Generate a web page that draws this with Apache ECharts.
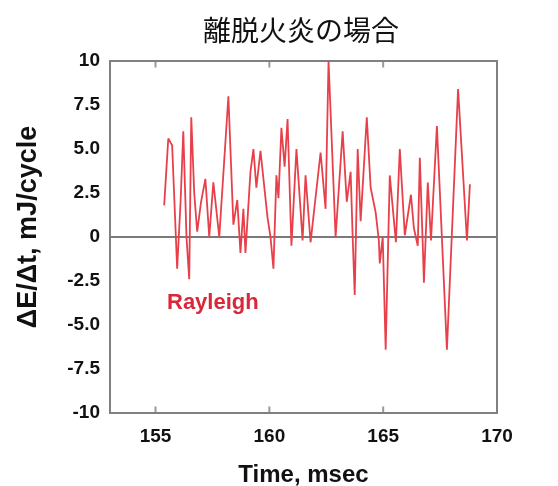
<!DOCTYPE html>
<html>
<head>
<meta charset="utf-8">
<script src="https://cdn.jsdelivr.net/npm/echarts@6/dist/echarts.min.js"></script>
<style>
  html, body { margin: 0; padding: 0; background: #fff; }
  #chart { width: 558px; height: 486px; }
</style>
</head>
<body>
<div id="chart"></div>
<script>
// Rayleigh index energy rate for the lifted (detached) flame
const timeMs = [
  155.38, 155.56, 155.73, 155.95, 156.10, 156.22, 156.36, 156.48, 156.57, 156.70,
  156.83, 157.00, 157.19, 157.36, 157.54, 157.80, 158.20, 158.42, 158.59, 158.73,
  158.86, 158.95, 159.17, 159.30, 159.43, 159.61, 159.92, 160.05, 160.18, 160.31,
  160.40, 160.53, 160.67, 160.80, 160.97, 161.19, 161.46, 161.59, 161.81, 162.25,
  162.47, 162.60, 162.91, 163.22, 163.40, 163.57, 163.66, 163.75, 163.88, 164.01,
  164.28, 164.45, 164.67, 164.81, 164.85, 164.98, 165.11, 165.29, 165.56, 165.73,
  165.95, 166.22, 166.35, 166.52, 166.61, 166.74, 166.79, 166.96, 167.10, 167.36,
  167.80, 168.29, 168.68, 168.81
];
const rayleighValues = [
  1.8, 5.6, 5.2, -1.8, 2.0, 6.0, 0.0, -2.4, 6.8, 2.5,
  0.3, 2.0, 3.3, 0.0, 3.1, 0.0, 8.0, 0.7, 2.1, -0.9,
  1.6, -0.9, 3.7, 5.0, 2.8, 4.9, 1.1, 0.0, -1.8, 3.5,
  2.2, 6.2, 4.0, 6.7, -0.5, 5.0, -0.2, 3.5, -0.3, 4.8,
  1.6, 10.0, 0.0, 6.0, 2.0, 3.7, 0.0, -3.3, 5.0, 0.9,
  6.8, 2.8, 1.4, -0.2, -1.5, 0.0, -6.4, 3.5, -0.3, 5.0,
  0.1, 2.4, 0.5, -0.5, 4.5, -0.5, -2.6, 3.1, -0.2, 6.3,
  -6.4, 8.4, -0.2, 3.0
];
const xTickValues = [155, 160, 165, 170];
const yTickValues = [-10, -7.5, -5, -2.5, 0, 2.5, 5, 7.5, 10];
const yTickLabels = ['-10', '-7.5', '-5.0', '-2.5', '0', '2.5', '5.0', '7.5', '10'];

const chartTitle = '離脱火炎の場合';
const seriesName = 'Rayleigh';
const xAxisName = 'Time, msec';
const yAxisName = 'ΔE/Δt, mJ/cycle';

const points = timeMs.map((t, i) => [t, rayleighValues[i]]);

const chart = echarts.init(document.getElementById('chart'), null, { renderer: 'canvas' });

const latin = 'Liberation Sans, Arial, sans-serif';
const tickFont = { fontFamily: latin, fontWeight: 'bold', fontSize: 19, color: '#111' };

chart.setOption({
  animation: false,
  backgroundColor: '#ffffff',
  title: {
    text: chartTitle,
    left: 296,
    top: 11,
    textAlign: 'center',
    textStyle: { fontFamily: 'Noto Sans CJK JP, sans-serif', fontWeight: 'normal', fontSize: 28, color: '#111' }
  },
  grid: {
    left: 110, right: 61, top: 61, bottom: 73,
    outerBoundsMode: 'none',
    containLabel: false,
    show: true, borderColor: '#808080', borderWidth: 2, backgroundColor: 'transparent'
  },
  xAxis: [
    {
      type: 'value', min: 153, max: 170, interval: 1,
      name: xAxisName, nameLocation: 'middle', nameGap: 50,
      nameTextStyle: { fontFamily: latin, fontWeight: 'bold', fontSize: 24, color: '#111' },
      axisLine: { show: true, lineStyle: { color: '#808080', width: 2 } },
      axisTick: { show: false },
      splitLine: { show: false },
      axisLabel: Object.assign({
        margin: 14,
        formatter: v => xTickValues.includes(v) ? String(v) : ''
      }, tickFont)
    }
  ],
  yAxis: [
    {
      type: 'value', min: -10, max: 10, interval: 2.5,
      name: yAxisName, nameLocation: 'middle', nameGap: 68, nameRotate: 90,
      nameTextStyle: { fontFamily: latin, fontWeight: 'bold', fontSize: 27, color: '#111', padding: [0, 0, 0, 20] },
      axisLine: { show: true, lineStyle: { color: '#808080', width: 2 } },
      axisTick: { show: false },
      splitLine: { show: false },
      axisLabel: Object.assign({
        margin: 10,
        formatter: v => {
          const i = yTickValues.indexOf(v);
          return i >= 0 ? yTickLabels[i] : '';
        }
      }, tickFont)
    }
  ],
  graphic: [
    {
      type: 'text', left: 167, top: 292,
      style: { text: seriesName, fill: '#d8283a', font: 'bold 22px Liberation Sans, Arial, sans-serif' }
    }
  ],
  series: [
    {
      name: 'x ticks',
      type: 'scatter',
      silent: true,
      symbol: 'rect',
      symbolSize: [2, 7],
      symbolOffset: [0, -3],
      itemStyle: { color: '#808080' },
      data: xTickValues.slice(0, 3).map(v => [v, -10]),
      z: 3
    },
    {
      name: 'x ticks top',
      type: 'scatter',
      silent: true,
      symbol: 'rect',
      symbolSize: [2, 7],
      symbolOffset: [0, 3],
      itemStyle: { color: '#808080' },
      data: xTickValues.slice(0, 3).map(v => [v, 10]),
      z: 3
    },
    {
      name: seriesName,
      type: 'line',
      data: points,
      showSymbol: false,
      smooth: false,
      lineStyle: { color: '#e8404a', width: 1.8 },
      z: 5,
      markLine: {
        silent: true,
        symbol: ['none', 'none'],
        label: { show: false },
        lineStyle: { color: '#7a7a7a', width: 2, type: 'solid' },
        data: [{ yAxis: 0 }],
        z: 4
      }
    }
  ]
});
</script>
</body>
</html>
